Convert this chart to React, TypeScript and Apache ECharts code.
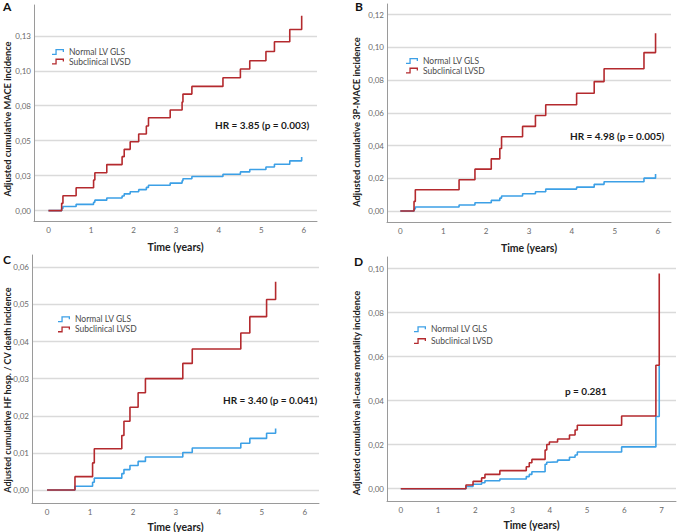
import React, { useEffect, useRef } from 'react';
import * as echarts from 'echarts';

// ---------- data ----------
const SERIES_NAMES = ['Normal LV GLS', 'Subclinical LVSD'];
const COLORS = ['#3ca0e6', '#b42a2e'];

const timesA = [0, 0.31, 0.34, 0.65, 1.06, 1.09, 1.37, 1.73, 1.78, 1.92, 2.12, 2.30, 2.35, 2.86, 3.14, 3.16, 3.37, 4.10, 4.51, 4.73, 5.11, 5.31, 5.67, 5.95];
const normalA = [0, 0.0015, 0.003, 0.0045, 0.006, 0.0075, 0.009, 0.0105, 0.012, 0.0135, 0.015, 0.0166, 0.0182, 0.0197, 0.0213, 0.0228, 0.0244, 0.026, 0.0277, 0.0294, 0.0312, 0.0332, 0.0356, 0.0384];
const subA = [0, 0.0052, 0.0107, 0.0164, 0.0219, 0.0271, 0.0329, 0.0386, 0.0438, 0.0493, 0.0548, 0.0605, 0.0664, 0.0719, 0.0776, 0.0833, 0.0888, 0.095, 0.1012, 0.1071, 0.1138, 0.1207, 0.1295, 0.1393];

const timesB = [0, 0.32, 0.35, 1.37, 1.74, 2.12, 2.32, 2.36, 2.85, 3.15, 3.39, 4.11, 4.52, 4.75, 5.68, 5.95];
const normalB = [0, 0.0012, 0.0025, 0.0037, 0.0051, 0.0065, 0.0079, 0.0092, 0.0106, 0.0118, 0.0134, 0.0146, 0.0163, 0.0179, 0.0201, 0.0226];
const subB = [0, 0.0059, 0.013, 0.0191, 0.0256, 0.0319, 0.0382, 0.0454, 0.0517, 0.0584, 0.0649, 0.072, 0.0791, 0.0869, 0.0968, 0.1086];

const timesC = [0, 0.65, 1.06, 1.10, 1.74, 1.79, 1.93, 2.12, 2.29, 3.16, 3.38, 4.51, 4.72, 5.11, 5.32];
const normalC = [0, 0.001, 0.0021, 0.0032, 0.0044, 0.0055, 0.0066, 0.0077, 0.0089, 0.0101, 0.0113, 0.0126, 0.0139, 0.0153, 0.0166];
const subC = [0, 0.0036, 0.0073, 0.0111, 0.0147, 0.0185, 0.0223, 0.0262, 0.030, 0.0341, 0.038, 0.0423, 0.0467, 0.0513, 0.0561];

const timesD = [0, 1.75, 1.94, 2.17, 2.26, 2.66, 3.37, 3.45, 3.52, 3.875, 3.92, 3.99, 4.21, 4.53, 4.68, 4.74, 5.93, 6.85, 6.94];
const normalD = [0, 0.001, 0.002, 0.0027, 0.0036, 0.0044, 0.0055, 0.0065, 0.0077, 0.0111, 0.012, 0.0122, 0.013, 0.0143, 0.0153, 0.0167, 0.019, 0.0328, 0.0561];
const subD = [0, 0.0017, 0.0033, 0.0049, 0.0065, 0.0082, 0.010, 0.0118, 0.0133, 0.0176, 0.0201, 0.0212, 0.0226, 0.0244, 0.0267, 0.0288, 0.033, 0.0561, 0.0978];

const xTicks6 = [0, 1, 2, 3, 4, 5, 6];
const xTicks7 = [0, 1, 2, 3, 4, 5, 6, 7];
const yTicksA = [0, 0.025, 0.05, 0.075, 0.1, 0.125];
const yLabelsA = ['0,00', '0,03', '0,05', '0,08', '0,10', '0,13'];
const yTicksB = [0, 0.02, 0.04, 0.06, 0.08, 0.1, 0.12];
const yLabelsB = ['0,00', '0,02', '0,04', '0,06', '0,08', '0,10', '0,12'];
const yTicksC = [0, 0.01, 0.02, 0.03, 0.04, 0.05, 0.06];
const yLabelsC = ['0,00', '0,01', '0,02', '0,03', '0,04', '0,05', '0,06'];
const yTicksD = [0, 0.02, 0.04, 0.06, 0.08, 0.1];
const yLabelsD = ['0,00', '0,02', '0,04', '0,06', '0,08', '0,10'];

const letters = ['A', 'B', 'C', 'D'];
const yTitles = [
  'Adjusted cumulative MACE incidence',
  'Adjusted cumulative 3P-MACE incidence',
  'Adjusted cumulative HF hosp. / CV death incidence',
  'Adjusted cumulative all-cause mortality incidence',
];
const xTitle = 'Time (years)';
const notes = ['HR = 3.85 (p = 0.003)', 'HR = 4.98 (p = 0.005)', 'HR = 3.40 (p = 0.041)', 'p = 0.281'];

// ---------- layout ----------
const FONT = 'Lato, "DejaVu Sans", sans-serif';
const STEP_ICON = 'path://M0,4.7L3.4,4.7L3.4,0L12,0L12,3L10.7,3L10.7,1.3L4.7,1.3L4.7,6L0,6Z';

const panels = [
  {
    times: timesA, normal: normalA, sub: subA, xTicks: xTicks6, yTicks: yTicksA, yLabels: yLabelsA,
    grid: { left: 34, top: 5, width: 283, height: 216 }, x: [-0.34, 6.31], y: [-0.0074, 0.147],
    yTitle: [7, 119, 9.3], xGap: 20, legend: { left: 52, top: 47.2, gap: 0 }, note: [215, 126], letter: [3, 0],
  },
  {
    times: timesB, normal: normalB, sub: subB, xTicks: xTicks6, yTicks: yTicksB, yLabels: yLabelsB,
    grid: { left: 387, top: 4, width: 284, height: 218 }, x: [-0.31, 6.31], y: [-0.0067, 0.1265],
    yTitle: [356.5, 122, 9.3], xGap: 20, legend: { left: 406, top: 56.2, gap: 0 }, note: [570, 137], letter: [355, 0],
  },
  {
    times: timesC, normal: normalC, sub: subC, xTicks: xTicks6, yTicks: yTicksC, yLabels: yLabelsC,
    grid: { left: 32, top: 255, width: 287, height: 248 }, x: [-0.35, 6.33], y: [-0.0035, 0.0633],
    yTitle: [7.5, 390, 9], xGap: 18, legend: { left: 58, top: 314.5, gap: 0.5 }, note: [223, 401], letter: [3, 253],
  },
  {
    times: timesD, normal: normalD, sub: subD, xTicks: xTicks7, yTicks: yTicksD, yLabels: yLabelsD,
    grid: { left: 387, top: 257, width: 289, height: 244 }, x: [-0.37, 7.39], y: [-0.0056, 0.1053],
    yTitle: [356.5, 393, 9.3], xGap: 18, legend: { left: 414, top: 324.5, gap: 2.2 }, note: [565, 392], letter: [354, 255],
  },
];

function buildOption() {
  const grid: any[] = [];
  const xAxis: any[] = [];
  const yAxis: any[] = [];
  const series: any[] = [];
  const legend: any[] = [];
  const graphic: any[] = [];

  panels.forEach((p, i) => {
    grid.push({ ...p.grid, containLabel: false, outerBoundsMode: 'none' });
    xAxis.push({
      type: 'value', gridIndex: i, min: p.x[0], max: p.x[1],
      name: xTitle, nameLocation: 'middle', nameGap: p.xGap,
      nameTextStyle: { fontFamily: FONT, fontWeight: 'bold', fontSize: 10.5, color: '#222' },
      axisLine: { show: true, onZero: false, lineStyle: { color: '#9a9a9a', width: 1 } },
      axisTick: { show: false, customValues: p.xTicks },
      splitLine: { show: false },
      axisLabel: {
        customValues: p.xTicks, margin: 5, fontSize: 8, color: '#6a6a6a', fontFamily: FONT,
        formatter: (v: number) => String(Math.round(v)),
      },
    });
    yAxis.push({
      type: 'value', gridIndex: i, min: p.y[0], max: p.y[1],
      axisLine: { show: true, onZero: false, lineStyle: { color: '#9a9a9a', width: 1 } },
      axisTick: { show: false, customValues: p.yTicks },
      splitLine: { show: true, lineStyle: { color: '#dadada', width: 1.3 } },
      axisLabel: {
        customValues: p.yTicks, margin: 3, fontSize: 8, color: '#6a6a6a', fontFamily: FONT,
        formatter: (v: number) => {
          const k = p.yTicks.findIndex((t) => Math.abs(t - v) < 1e-9);
          return k >= 0 ? p.yLabels[k] : '';
        },
      },
    });
    [p.normal, p.sub].forEach((vals, s) => {
      series.push({
        type: 'line', name: SERIES_NAMES[s], xAxisIndex: i, yAxisIndex: i,
        step: 'end', showSymbol: false, symbol: 'none',
        data: p.times.map((t, k) => [t, vals[k]]),
        lineStyle: { color: COLORS[s], width: 1.6 },
        itemStyle: { color: COLORS[s] },
        z: 3 + s,
      });
    });
    legend.push({
      left: p.legend.left, top: p.legend.top, orient: 'vertical',
      itemWidth: 12, itemHeight: 6, itemGap: p.legend.gap,
      icon: STEP_ICON, itemStyle: { borderWidth: 0 },
      selectedMode: false, padding: 0,
      textStyle: { fontFamily: FONT, fontSize: 8.5, color: '#4a4a4a', lineHeight: 9.6 },
      data: SERIES_NAMES,
    });
    graphic.push({
      type: 'text', x: p.yTitle[0], y: p.yTitle[1], rotation: Math.PI / 2,
      style: {
        text: yTitles[i], font: `bold ${p.yTitle[2]}px ${FONT}`, fill: '#222',
        align: 'center', verticalAlign: 'middle',
      },
    });
    graphic.push({
      type: 'text', left: p.note[0], top: p.note[1] - 6,
      style: { text: notes[i], font: `bold 10px ${FONT}`, fill: '#1a1a1a' },
    });
    graphic.push({
      type: 'text', left: p.letter[0], top: p.letter[1],
      style: { text: letters[i], font: `bold 12px ${FONT}`, fill: '#111' },
    });
  });

  return { animation: false, backgroundColor: '#ffffff', grid, xAxis, yAxis, series, legend, graphic };
}

export default function App() {
  const ref = useRef<HTMLDivElement>(null);
  useEffect(() => {
    if (!ref.current) return;
    const chart = echarts.init(ref.current, undefined, { renderer: 'svg' });
    chart.setOption(buildOption() as any);
    return () => chart.dispose();
  }, []);
  return (
    <div
      ref={ref}
      style={{ position: 'absolute', left: 0, top: 0, width: 677, height: 532, background: '#fff' }}
    />
  );
}
